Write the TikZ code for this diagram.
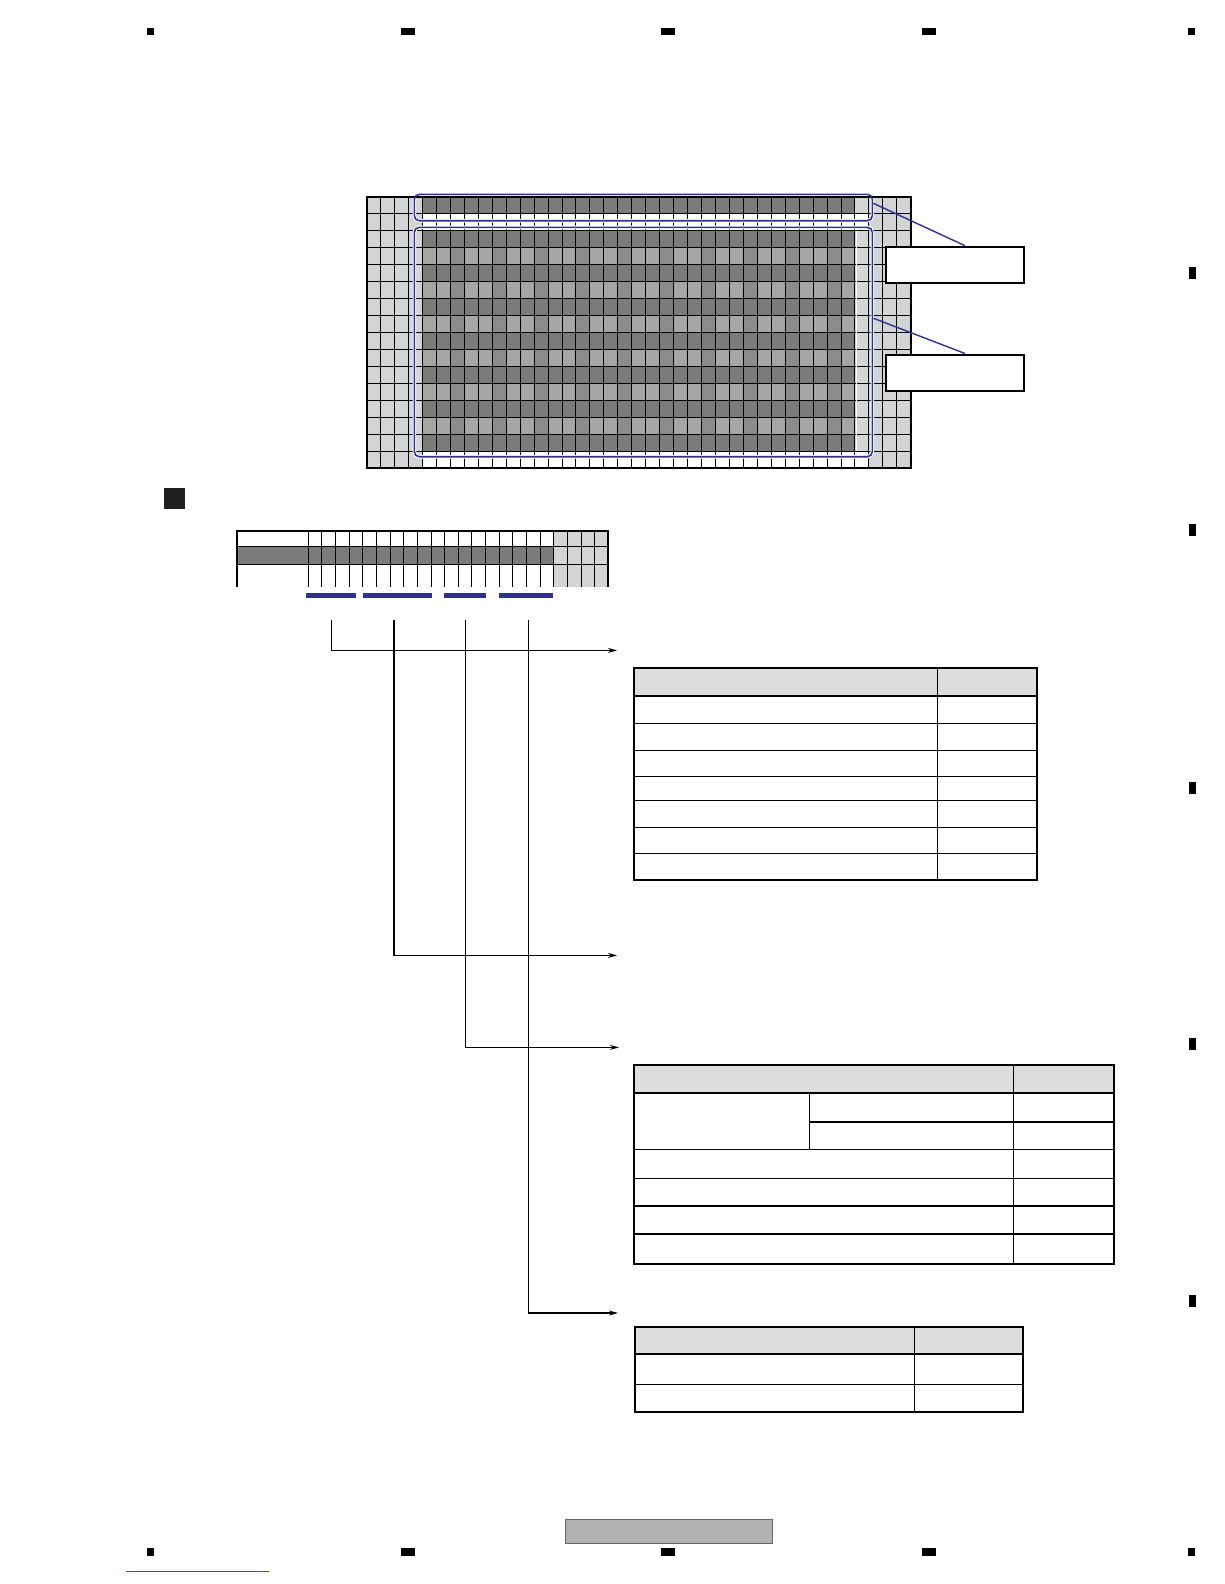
\documentclass[tikz,border=0pt]{standalone}
\usetikzlibrary{arrows.meta}
\definecolor{celldark}{HTML}{7B7B7B}
\definecolor{cellmid}{HTML}{A6A6A6}
\definecolor{cellshade}{HTML}{8C8C8C}
\definecolor{celllight}{HTML}{D3D4D5}
\definecolor{headgray}{HTML}{DCDDDF}
\definecolor{selblue}{HTML}{2E3192}
\definecolor{linkblue}{HTML}{3355CC}
\tikzset{
  gridline/.style={black,line width=1pt},
  frame/.style={black,line width=2pt},
  selbox/.style={selblue,line width=1.6pt,rounded corners=5pt},
  halo/.style={white,line width=3.6pt,rounded corners=5pt},
  bitbar/.style={fill=selblue,draw=none,inner sep=0pt,minimum height=5pt},
  callout/.style={draw,line width=2pt,fill=white,minimum width=138pt,minimum height=36pt,inner sep=0pt},
  conn/.style={black,line width=1.1pt,-{Stealth[length=9pt,width=5pt]}},
  tabrule/.style={black,line width=1.2pt},
  tabframe/.style={black,line width=2pt}
}
\begin{document}
\begin{tikzpicture}[x=1pt,y=-1pt]
  \useasboundingbox (0,0) rectangle (1224,1584);
  % page marks
  \foreach \mx/\mw in {150.5/7,408/14,667.6/14,929.2/14,1191.7/7} {
    \fill (\mx-\mw/2,28.3) rectangle (\mx+\mw/2,35.3);
    \fill (\mx-\mw/2,1547.7) rectangle (\mx+\mw/2,1555.7);
  }
  \foreach \my in {272.7,530.2,787.7,1044.3,1300.8}
    \fill (1188.5,\my-6) rectangle (1195.5,\my+6);

  % display matrix
  \fill[celllight] (366.7,196.7) rectangle (910.7,468.3);
  \fill[celldark] (422.5,196.7) rectangle (855,213.7);
  \fill[white] (422.5,213.7) rectangle (869,230.6);
  \fill[celldark] (422.5,230.6) rectangle (855,451.2);
  \foreach \r in {4,6,...,14} {
    \pgfmathsetmacro\ya{196.7+16.97*(\r-1)}
    \fill[cellmid] (422.5,\ya) rectangle (855,\ya+16.97);
    \foreach \k in {6,9,...,33}
      \fill[cellshade] ({366.7+13.95*\k},\ya) rectangle ++(13.95,16.97);
  }
  \fill[white] (422.5,451.2) rectangle (869,468.3);
  \foreach \k in {1,...,38}
    \draw[gridline] ({366.7+13.95*\k},196.7) -- ++(0,271.6);
  \foreach \r in {1,...,15}
    \draw[gridline] (366.7,{196.7+16.97*\r}) -- ++(544,0);
  \draw[white,line width=1pt] (856,230.6) -- (856,451.2);
  \draw[halo] (414.3,194.3) rectangle (872.3,220.7);
  \draw[halo] (414.3,227.3) rectangle (872.3,456.7);
  \draw[frame] (366.7,196.7) rectangle (910.7,468.3);
  \draw[selbox] (414.3,194.3) rectangle (872.3,220.7);
  \draw[selbox] (414.3,227.3) rectangle (872.3,456.7);
  \coordinate (topsel) at (873.3,203.3);
  \coordinate (mainsel) at (873.5,318.3);

  % callouts
  \node[callout] (boxA) at (955,264.7) {};
  \node[callout] (boxB) at (955,372.5) {};
  \draw[selblue,line width=1.4pt] (topsel) -- ([xshift=10pt]boxA.north);
  \draw[selblue,line width=1.4pt] (mainsel) -- ([xshift=10pt]boxB.north);

  % section mark
  \fill[black!88] (164,487.5) rectangle (185,508.5);

  % one row of the matrix
  \fill[celllight] (553.8,531) rectangle (608.4,586.7);
  \fill[celldark] (237.3,546) rectangle (553.8,564.3);
  \draw[gridline] (237.3,546) -- (608.4,546);
  \draw[gridline] (237.3,564.3) -- (608.4,564.3);
  \foreach \k in {0,...,21}
    \draw[gridline] ({308.3+13.64*\k},531) -- ++(0,55.7);
  \draw[frame] (237.3,586.7) -- (237.3,531) -- (608.4,531) -- (608.4,586.7);
  \node[bitbar,minimum width=50pt] (barA) at (331,595.2) {};
  \node[bitbar,minimum width=68.4pt] (barB) at (397.5,595.2) {};
  \node[bitbar,minimum width=42pt] (barC) at (465,595.2) {};
  \node[bitbar,minimum width=53.4pt] (barD) at (526,595.2) {};

  % connectors
  \coordinate (srcA) at (331.3,620);
  \coordinate (srcB) at (394,620);
  \coordinate (srcC) at (465.6,620);
  \coordinate (srcD) at (528.2,620);
  \coordinate (tipA) at (617,650.4);
  \coordinate (tipB) at (617,955.4);
  \coordinate (tipC) at (619,1047.4);
  \coordinate (tipD) at (618,1313);
  \draw[conn] (srcA) |- (tipA);
  \draw[conn] (srcB) |- (tipB);
  \draw[conn] (srcC) |- (tipC);
  \draw[conn] (srcD) |- (tipD);

  % table 1
  \fill[headgray] (634,667.7) rectangle (1037.3,695.7);
  \foreach \ty in {723.3,750.7,776.3,800.3,827.3,853.3}
    \draw[tabrule] (634,\ty) -- (1037.3,\ty);
  \draw[tabrule] (937.3,667.7) -- (937.3,879.6);
  \draw[tabframe] (634,695.7) -- (1037.3,695.7);
  \draw[tabframe] (634,667.7) rectangle (1037.3,879.6);

  % table 2
  \fill[headgray] (634,1065) rectangle (1114,1092.7);
  \draw[tabrule] (809.3,1122) -- (1114,1122);
  \draw[tabrule] (809.3,1092.7) -- (809.3,1149.3);
  \foreach \ty in {1149.3,1178.3,1206,1234}
    \draw[tabrule] (634,\ty) -- (1114,\ty);
  \draw[tabrule] (1013.7,1065) -- (1013.7,1263.6);
  \draw[tabframe] (634,1092.7) -- (1114,1092.7);
  \draw[tabframe] (634,1065) rectangle (1114,1263.6);

  % table 3
  \fill[headgray] (635,1327) rectangle (1023,1354.3);
  \draw[tabrule] (635,1384.3) -- (1023,1384.3);
  \draw[tabrule] (914.7,1327) -- (914.7,1412);
  \draw[tabframe] (635,1354.3) -- (1023,1354.3);
  \draw[tabframe] (635,1327) rectangle (1023,1412);

  % footer
  \draw[draw=black!60,fill=black!30,line width=1pt] (565.3,1519.3) rectangle (772.3,1543);
  \draw[linkblue,line width=0.8pt] (126,1571) -- (268.6,1571);
\end{tikzpicture}
\end{document}
